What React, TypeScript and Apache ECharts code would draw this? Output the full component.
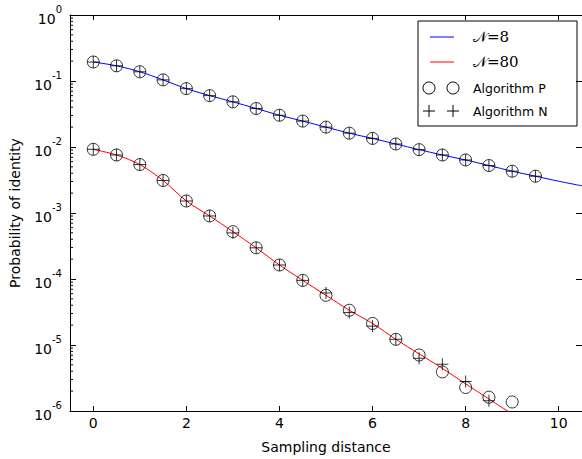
import React, { useEffect, useRef } from "react";
import * as echarts from "echarts";

// x positions (sampling distance)
const xPoints = [0, 0.5, 1, 1.5, 2, 2.5, 3, 3.5, 4, 4.5, 5, 5.5, 6, 6.5, 7, 7.5, 8, 8.5, 9, 9.5];
const xLineN8 = [0, 0.5, 1, 1.5, 2, 2.5, 3, 3.5, 4, 4.5, 5, 5.5, 6, 6.5, 7, 7.5, 8, 8.5, 9, 9.5, 10, 10.5];
const xLineN80 = [0, 0.5, 1, 1.5, 2, 2.5, 3, 3.5, 4, 4.5, 5, 5.5, 6, 6.5, 7, 7.5, 8, 8.5, 9];

// theory curves
const lineN8 = [0.194, 0.17, 0.138, 0.104, 0.0766, 0.0601, 0.0483, 0.0383, 0.0303, 0.0247, 0.02, 0.0162, 0.0135, 0.0111, 0.00912, 0.00757, 0.00636, 0.00524, 0.0043, 0.00361, 0.00303, 0.00258];
const lineN80 = [0.00922, 0.00757, 0.00542, 0.00311, 0.00152, 0.000902, 0.000522, 0.000297, 0.000163, 0.0000953, 5.66e-5, 3.36e-5, 2.12e-5, 1.22e-5, 7.35e-6, 4.42e-6, 2.58e-6, 1.52e-6, 9.0e-7];

// Algorithm P (circles)
const algPN8 = [0.194, 0.17, 0.138, 0.104, 0.0766, 0.0601, 0.0483, 0.0383, 0.0303, 0.0247, 0.02, 0.0162, 0.0135, 0.0111, 0.00912, 0.00757, 0.00636, 0.00524, 0.0043, 0.00361];
const algPN80 = [0.00922, 0.00757, 0.00542, 0.00311, 0.00152, 0.000902, 0.000522, 0.000297, 0.000163, 0.0000953, 5.66e-5, 3.36e-5, 2.12e-5, 1.22e-5, 7.05e-6, 3.91e-6, 2.27e-6, 1.62e-6, 1.37e-6];

// Algorithm N (plus)
const algNN8 = [0.194, 0.17, 0.138, 0.104, 0.0766, 0.0601, 0.0483, 0.0383, 0.0303, 0.0247, 0.02, 0.0162, 0.0135, 0.0111, 0.00912, 0.00757, 0.00636, 0.00524, 0.0043, 0.00361];
const algNN80 = [0.00922, 0.00757, 0.00542, 0.00311, 0.00152, 0.000902, 0.000499, 0.000297, 0.000163, 0.0000953, 6.15e-5, 3.1e-5, 1.93e-5, 1.22e-5, 6.29e-6, 5.11e-6, 2.8e-6, 1.43e-6];

const xTickValues = [0, 2, 4, 6, 8, 10];
const minorTickValues = [
  2e-6, 3e-6, 4e-6, 5e-6, 6e-6, 7e-6, 8e-6, 9e-6,
  2e-5, 3e-5, 4e-5, 5e-5, 6e-5, 7e-5, 8e-5, 9e-5,
  2e-4, 3e-4, 4e-4, 5e-4, 6e-4, 7e-4, 8e-4, 9e-4,
  2e-3, 3e-3, 4e-3, 5e-3, 6e-3, 7e-3, 8e-3, 9e-3,
  2e-2, 3e-2, 4e-2, 5e-2, 6e-2, 7e-2, 8e-2, 9e-2,
  0.2, 0.3, 0.4, 0.5, 0.6, 0.7, 0.8, 0.9,
];

const legendLabels = ["𝒩=8", "𝒩=80", "Algorithm P", "Algorithm N"];

const FONT = "DejaVu Sans";
const PLUS = "path://M6,0L6,12M0,6L12,6";

export default function App() {
  const ref = useRef<HTMLDivElement>(null);
  useEffect(() => {
    if (!ref.current) return;
    const chart = echarts.init(ref.current, null, { renderer: "svg" });
    const zip = (xs: number[], ys: number[]) => ys.map((y, i) => [xs[i], y]);
    const axisLine = { show: true, onZero: false, lineStyle: { color: "#000", width: 1 } };
    const gridLeft = 68.5;
    const gridTop = 15;
    const legX = 418;
    const legY = 21;
    const rows = [37, 62, 88, 111];
    chart.setOption({
      animation: false,
      backgroundColor: "#fff",
      textStyle: { fontFamily: FONT },
      grid: { left: gridLeft, top: gridTop, width: 516, height: 398, containLabel: false },
      xAxis: [
        {
          type: "value",
          min: -0.5,
          max: 10.5,
          position: "bottom",
          name: "Sampling distance",
          nameLocation: "middle",
          nameGap: 29,
          nameTextStyle: { fontSize: 14, color: "#000", fontFamily: FONT },
          axisLine,
          axisTick: { show: true, inside: true, length: 5, lineStyle: { color: "#000" }, customValues: xTickValues },
          axisLabel: { show: true, color: "#000", fontSize: 14, margin: 5, fontFamily: FONT, customValues: xTickValues },
          splitLine: { show: false },
        },
        {
          type: "value",
          min: -0.5,
          max: 10.5,
          position: "top",
          axisLine,
          axisTick: { show: true, inside: true, length: 5, lineStyle: { color: "#000" }, customValues: xTickValues },
          axisLabel: { show: false },
          splitLine: { show: false },
        },
      ],
      yAxis: [
        {
          type: "log",
          logBase: 10,
          min: 1e-6,
          max: 1,
          splitNumber: 6,
          position: "left",
          name: "Probability of identity",
          nameLocation: "middle",
          nameGap: 48,
          nameTextStyle: { fontSize: 14, color: "#000", fontFamily: FONT },
          axisLine,
          axisTick: { show: true, inside: true, length: 6, lineStyle: { color: "#000" } },
          axisLabel: {
            show: true,
            margin: 8,
            formatter: (v: number) => `{b|10}{s|${Math.round(Math.log10(v))}}`,
            rich: {
              b: { fontSize: 14, color: "#000", fontFamily: FONT, lineHeight: 22, verticalAlign: "bottom" },
              s: { fontSize: 10, color: "#000", fontFamily: FONT, lineHeight: 22, verticalAlign: "top" },
            },
          },
          splitLine: { show: false },
        },
        {
          type: "log",
          logBase: 10,
          min: 1e-6,
          max: 1,
          splitNumber: 6,
          position: "right",
          axisLine,
          axisTick: { show: true, inside: true, length: 6, lineStyle: { color: "#000" } },
          axisLabel: { show: false },
          splitLine: { show: false },
        },
      ],
      series: [
        {
          type: "custom",
          silent: true,
          clip: false,
          data: minorTickValues.map((v) => [-0.5, v]),
          renderItem: (params: any, api: any) => {
            const p = api.coord([api.value(0), api.value(1)]);
            return {
              type: "line",
              shape: { x1: p[0], y1: p[1], x2: p[0] + 3, y2: p[1] },
              style: { stroke: "#000", lineWidth: 1 },
            };
          },
        },
        {
          type: "line",
          data: zip(xLineN8, lineN8),
          smooth: 0.3,
          showSymbol: false,
          symbol: "none",
          clip: true,
          lineStyle: { color: "#0000ff", width: 1 },
          z: 2,
        },
        {
          type: "line",
          data: zip(xLineN80, lineN80),
          smooth: 0.3,
          showSymbol: false,
          symbol: "none",
          clip: true,
          lineStyle: { color: "#ff0000", width: 1 },
          z: 2,
        },
        {
          type: "scatter",
          data: zip(xPoints, algPN8),
          symbol: "circle",
          symbolSize: 12,
          itemStyle: { color: "none", borderColor: "#000", borderWidth: 1 },
          z: 3,
        },
        {
          type: "scatter",
          data: zip(xPoints, algPN80),
          symbol: "circle",
          symbolSize: 12,
          itemStyle: { color: "none", borderColor: "#000", borderWidth: 1 },
          z: 3,
        },
        {
          type: "scatter",
          data: zip(xPoints, algNN8),
          symbol: PLUS,
          symbolSize: 12,
          itemStyle: { color: "none", borderColor: "#000", borderWidth: 1 },
          z: 4,
        },
        {
          type: "scatter",
          data: zip(xPoints, algNN80),
          symbol: PLUS,
          symbolSize: 12,
          itemStyle: { color: "none", borderColor: "#000", borderWidth: 1 },
          z: 4,
        },
      ],
      graphic: [
        {
          type: "group",
          z: 100,
          children: [
            { type: "rect", shape: { x: legX, y: legY, width: 159, height: 105 }, style: { fill: "#fff", stroke: "#000", lineWidth: 1 } },
            { type: "line", shape: { x1: 430, y1: rows[0], x2: 454, y2: rows[0] }, style: { stroke: "#0000ff", lineWidth: 1 } },
            { type: "line", shape: { x1: 430, y1: rows[1], x2: 454, y2: rows[1] }, style: { stroke: "#ff0000", lineWidth: 1 } },
            { type: "circle", shape: { cx: 429, cy: rows[2], r: 6 }, style: { fill: "none", stroke: "#000", lineWidth: 1 } },
            { type: "circle", shape: { cx: 453, cy: rows[2], r: 6 }, style: { fill: "none", stroke: "#000", lineWidth: 1 } },
            { type: "line", shape: { x1: 423, y1: rows[3], x2: 435, y2: rows[3] }, style: { stroke: "#000", lineWidth: 1 } },
            { type: "line", shape: { x1: 429, y1: rows[3] - 6, x2: 429, y2: rows[3] + 6 }, style: { stroke: "#000", lineWidth: 1 } },
            { type: "line", shape: { x1: 447, y1: rows[3], x2: 459, y2: rows[3] }, style: { stroke: "#000", lineWidth: 1 } },
            { type: "line", shape: { x1: 453, y1: rows[3] - 6, x2: 453, y2: rows[3] + 6 }, style: { stroke: "#000", lineWidth: 1 } },
            { type: "text", x: 473, y: rows[0], style: { text: legendLabels[0], fontFamily: "DejaVu Serif", fontSize: 15, fill: "#000", verticalAlign: "middle" } },
            { type: "text", x: 473, y: rows[1], style: { text: legendLabels[1], fontFamily: "DejaVu Serif", fontSize: 15, fill: "#000", verticalAlign: "middle" } },
            { type: "text", x: 473, y: rows[2], style: { text: legendLabels[2], fontFamily: FONT, fontSize: 12.5, fill: "#000", verticalAlign: "middle" } },
            { type: "text", x: 473, y: rows[3], style: { text: legendLabels[3], fontFamily: FONT, fontSize: 12.5, fill: "#000", verticalAlign: "middle" } },
          ],
        },
      ],
    });
    return () => chart.dispose();
  }, []);
  return <div ref={ref} style={{ position: "absolute", left: 0, top: 0, width: 582, height: 459 }} />;
}
